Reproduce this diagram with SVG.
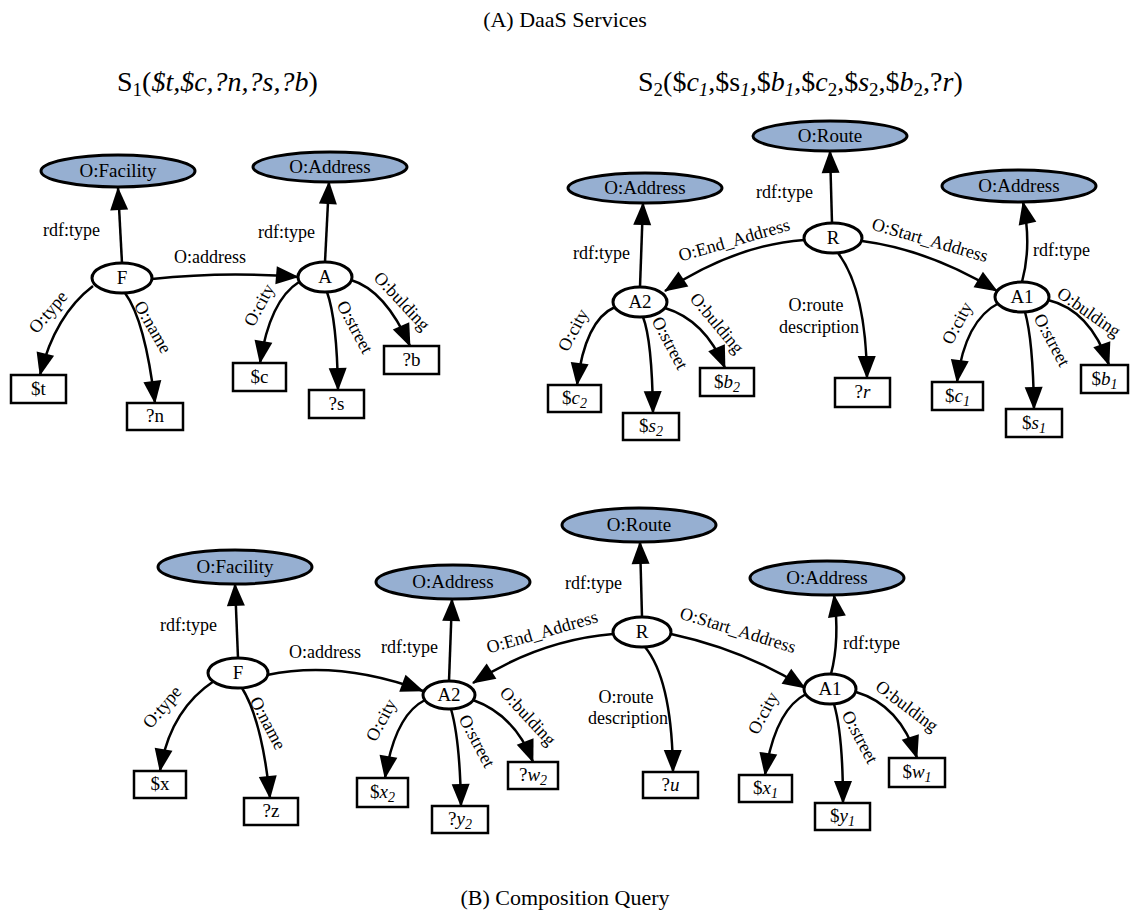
<svg xmlns="http://www.w3.org/2000/svg" width="1130" height="915" viewBox="0 0 1130 915">
<style>
text{font-family:"Liberation Serif","Times New Roman",serif;fill:#000}
.ti{font-size:22px;text-anchor:middle}
.st{font-size:28px}
.n{font-size:19px;text-anchor:middle}
.l{font-size:18px}
.m{text-anchor:middle}
.e{text-anchor:end}
.i{font-style:italic}
.cls ellipse{fill:#96afd1;stroke:#000;stroke-width:3}
.ins ellipse{fill:#fff;stroke:#000;stroke-width:3}
.box rect{fill:#fff;stroke:#000;stroke-width:2.5}
#edges path{fill:none;stroke:#000;stroke-width:2.5;marker-end:url(#ah)}
</style>
<defs>
<marker id="ah" markerUnits="userSpaceOnUse" markerWidth="24" markerHeight="19" refX="22" refY="9" orient="auto" overflow="visible">
<path d="M0,0 L23,9 L0,18 z" fill="#000"/>
</marker>
</defs>
<rect width="1130" height="915" fill="#fff"/>

<text class="ti" x="565" y="27">(A) DaaS Services</text>
<text class="st" x="117" y="91">S<tspan font-size="19" dy="5">1</tspan><tspan dy="-5">(</tspan><tspan class="i">$t,$c,?n,?s,?b</tspan>)</text>
<text class="st" x="638" y="91">S<tspan font-size="19" dy="5">2</tspan><tspan dy="-5">($</tspan><tspan class="i">c</tspan><tspan class="i" font-size="19" dy="5">1</tspan><tspan dy="-5">,$s</tspan><tspan class="i" font-size="19" dy="5">1</tspan><tspan dy="-5">,$</tspan><tspan class="i">b</tspan><tspan class="i" font-size="19" dy="5">1</tspan><tspan dy="-5">,$</tspan><tspan class="i">c</tspan><tspan font-size="19" dy="5">2</tspan><tspan dy="-5">,$</tspan><tspan class="i">s</tspan><tspan font-size="19" dy="5">2</tspan><tspan dy="-5">,$</tspan><tspan class="i">b</tspan><tspan font-size="19" dy="5">2</tspan><tspan dy="-5">,?</tspan><tspan class="i">r</tspan>)</text>
<text class="ti" x="565" y="905">(B) Composition Query</text>

<g id="edges">
<!-- S1 -->
<path d="M122,263 L118,188"/>
<path d="M325,262 L329,182"/>
<path d="M152,279 Q225,271 298,277"/>
<path d="M93,286 Q55,315 40,375"/>
<path d="M125,293 Q145,320 155,403"/>
<path d="M299,282 Q270,300 260,363"/>
<path d="M327,292 Q337,320 338,390"/>
<path d="M351,280 Q385,290 410,346"/>
<!-- S2 -->
<path d="M832,223 L830,151"/>
<path d="M640,287 L643,203"/>
<path d="M1022,282 Q1032,245 1023,202"/>
<path d="M804,240 Q735,245 665,291"/>
<path d="M862,241 Q930,250 997,291"/>
<path d="M838,253 Q866,290 867,378"/>
<path d="M615,307 Q585,320 577,385"/>
<path d="M643,317 Q652,340 653,413"/>
<path d="M665,308 Q705,320 725,368"/>
<path d="M999,303 Q965,320 957,382"/>
<path d="M1025,312 Q1033,340 1034,409"/>
<path d="M1048,300 Q1090,310 1109,365"/>
<!-- Query -->
<path d="M238,658 L235,584"/>
<path d="M449,681 L452,599"/>
<path d="M642,617 L640,542"/>
<path d="M831,674 Q840,640 834,595"/>
<path d="M267,675 Q340,660 423,691"/>
<path d="M613,634 Q540,640 473,683"/>
<path d="M671,634 Q745,650 805,688"/>
<path d="M645,647 Q672,680 673,772"/>
<path d="M214,681 Q170,710 160,771"/>
<path d="M242,688 Q262,720 270,798"/>
<path d="M425,700 Q395,715 385,778"/>
<path d="M451,709 Q460,740 461,806"/>
<path d="M473,700 Q515,715 533,762"/>
<path d="M806,694 Q775,710 765,775"/>
<path d="M834,704 Q843,735 843,803"/>
<path d="M856,692 Q900,705 917,758"/>
</g>

<g id="edge-labels">
<!-- S1 -->
<text class="l e" x="100" y="236">rdf:type</text>
<text class="l e" x="315" y="238">rdf:type</text>
<text class="l m" x="210" y="263">O:address</text>
<text class="l m" transform="translate(48,312) rotate(-50)" y="6">O:type</text>
<text class="l m" transform="translate(153,327) rotate(60)" y="6">O:name</text>
<text class="l m" transform="translate(259,305) rotate(-62)" y="6">O:city</text>
<text class="l m" transform="translate(355,327) rotate(62)" y="6">O:street</text>
<text class="l m" transform="translate(402,301) rotate(47)" y="6">O:bulding</text>
<!-- S2 -->
<text class="l e" x="813" y="198">rdf:type</text>
<text class="l e" x="630" y="259">rdf:type</text>
<text class="l" x="1033" y="256">rdf:type</text>
<text class="l m" transform="translate(734,240) rotate(-16)" y="6">O:End_Address</text>
<text class="l m" transform="translate(930,240) rotate(16)" y="6">O:Start_Address</text>
<text class="l m" x="816" y="311">O:route</text>
<text class="l m" x="819" y="333">description</text>
<text class="l m" transform="translate(573,330) rotate(-62)" y="6">O:city</text>
<text class="l m" transform="translate(670,343) rotate(62)" y="6">O:street</text>
<text class="l m" transform="translate(717,323) rotate(50)" y="6">O:bulding</text>
<text class="l m" transform="translate(957,323) rotate(-62)" y="6">O:city</text>
<text class="l m" transform="translate(1052,340) rotate(62)" y="6">O:street</text>
<text class="l m" transform="translate(1089,312) rotate(35)" y="6">O:bulding</text>
<!-- Query -->
<text class="l e" x="217" y="631">rdf:type</text>
<text class="l e" x="438" y="653">rdf:type</text>
<text class="l e" x="622" y="589">rdf:type</text>
<text class="l" x="843" y="649">rdf:type</text>
<text class="l m" x="325" y="658">O:address</text>
<text class="l m" transform="translate(542,632) rotate(-16)" y="6">O:End_Address</text>
<text class="l m" transform="translate(738,630) rotate(17)" y="6">O:Start_Address</text>
<text class="l m" x="626" y="703">O:route</text>
<text class="l m" x="628" y="724">description</text>
<text class="l m" transform="translate(162,707) rotate(-50)" y="6">O:type</text>
<text class="l m" transform="translate(268,723) rotate(62)" y="6">O:name</text>
<text class="l m" transform="translate(381,720) rotate(-62)" y="6">O:city</text>
<text class="l m" transform="translate(477,741) rotate(62)" y="6">O:street</text>
<text class="l m" transform="translate(528,716) rotate(47)" y="6">O:bulding</text>
<text class="l m" transform="translate(763,713) rotate(-62)" y="6">O:city</text>
<text class="l m" transform="translate(860,737) rotate(62)" y="6">O:street</text>
<text class="l m" transform="translate(907,706) rotate(37)" y="6">O:bulding</text>
</g>

<!-- S1 nodes -->
<g id="s1-facility" class="cls"><ellipse cx="118" cy="171" rx="77" ry="16"/><text class="n" x="118" y="177">O:Facility</text></g>
<g id="s1-address" class="cls"><ellipse cx="330" cy="167" rx="77" ry="15"/><text class="n" x="330" y="173">O:Address</text></g>
<g id="s1-F" class="ins"><ellipse cx="122" cy="278" rx="30" ry="15"/><text class="n" x="122" y="284">F</text></g>
<g id="s1-A" class="ins"><ellipse cx="325" cy="277" rx="27" ry="15"/><text class="n" x="325" y="283">A</text></g>
<g id="s1-t" class="box"><rect x="11" y="375" width="55" height="28"/><text class="n" x="38.5" y="395">$t</text></g>
<g id="s1-n" class="box"><rect x="127" y="403" width="56" height="27"/><text class="n" x="155" y="422">?n</text></g>
<g id="s1-c" class="box"><rect x="233" y="363" width="53" height="28"/><text class="n" x="259.5" y="383">$c</text></g>
<g id="s1-s" class="box"><rect x="309" y="390" width="55" height="28"/><text class="n" x="336.5" y="410">?s</text></g>
<g id="s1-b" class="box"><rect x="384" y="346" width="55" height="28"/><text class="n" x="411.5" y="366">?b</text></g>

<!-- S2 nodes -->
<g id="s2-route" class="cls"><ellipse cx="830" cy="136" rx="77" ry="15"/><text class="n" x="830" y="142">O:Route</text></g>
<g id="s2-address2" class="cls"><ellipse cx="645" cy="188" rx="77" ry="15"/><text class="n" x="645" y="194">O:Address</text></g>
<g id="s2-address1" class="cls"><ellipse cx="1019" cy="186" rx="77" ry="16"/><text class="n" x="1019" y="192">O:Address</text></g>
<g id="s2-R" class="ins"><ellipse cx="833" cy="238" rx="29" ry="15"/><text class="n" x="833" y="244">R</text></g>
<g id="s2-A2" class="ins"><ellipse cx="640" cy="302" rx="27" ry="15"/><text class="n" x="640" y="308">A2</text></g>
<g id="s2-A1" class="ins"><ellipse cx="1022" cy="297" rx="27" ry="15"/><text class="n" x="1022" y="303">A1</text></g>
<g id="s2-c2" class="box"><rect x="548" y="385" width="53" height="27"/><text class="n" x="574.5" y="404">$<tspan class="i">c</tspan><tspan class="i" font-size="14" dy="4">2</tspan></text></g>
<g id="s2-s2" class="box"><rect x="623" y="413" width="56" height="27"/><text class="n" x="651" y="432">$<tspan class="i">s</tspan><tspan class="i" font-size="14" dy="4">2</tspan></text></g>
<g id="s2-b2" class="box"><rect x="700" y="368" width="54" height="28"/><text class="n" x="727" y="388">$<tspan class="i">b</tspan><tspan class="i" font-size="14" dy="4">2</tspan></text></g>
<g id="s2-r" class="box"><rect x="835" y="378" width="55" height="29"/><text class="n" x="862.5" y="398">?<tspan class="i">r</tspan></text></g>
<g id="s2-c1" class="box"><rect x="932" y="382" width="51" height="28"/><text class="n" x="957.5" y="402">$<tspan class="i">c</tspan><tspan class="i" font-size="14" dy="4">1</tspan></text></g>
<g id="s2-s1" class="box"><rect x="1006" y="409" width="56" height="28"/><text class="n" x="1034" y="429">$<tspan class="i">s</tspan><tspan class="i" font-size="14" dy="4">1</tspan></text></g>
<g id="s2-b1" class="box"><rect x="1081" y="365" width="47" height="28"/><text class="n" x="1104.5" y="385">$<tspan class="i">b</tspan><tspan class="i" font-size="14" dy="4">1</tspan></text></g>

<!-- Query nodes -->
<g id="q-facility" class="cls"><ellipse cx="235" cy="567" rx="77" ry="17"/><text class="n" x="235" y="573">O:Facility</text></g>
<g id="q-address2" class="cls"><ellipse cx="453" cy="582" rx="77" ry="17"/><text class="n" x="453" y="588">O:Address</text></g>
<g id="q-route" class="cls"><ellipse cx="639" cy="525" rx="77" ry="17"/><text class="n" x="639" y="531">O:Route</text></g>
<g id="q-address1" class="cls"><ellipse cx="827" cy="578" rx="77" ry="17"/><text class="n" x="827" y="584">O:Address</text></g>
<g id="q-F" class="ins"><ellipse cx="238" cy="673" rx="30" ry="15"/><text class="n" x="238" y="679">F</text></g>
<g id="q-A2" class="ins"><ellipse cx="449" cy="695" rx="26" ry="14"/><text class="n" x="449" y="701">A2</text></g>
<g id="q-R" class="ins"><ellipse cx="642" cy="632" rx="29" ry="15"/><text class="n" x="642" y="638">R</text></g>
<g id="q-A1" class="ins"><ellipse cx="830" cy="689" rx="26" ry="15"/><text class="n" x="830" y="695">A1</text></g>
<g id="q-x" class="box"><rect x="134" y="771" width="52" height="27"/><text class="n" x="160" y="790">$x</text></g>
<g id="q-z" class="box"><rect x="244" y="798" width="54" height="27"/><text class="n" x="271" y="817">?z</text></g>
<g id="q-x2" class="box"><rect x="357" y="778" width="51" height="29"/><text class="n" x="382.5" y="798">$<tspan class="i">x</tspan><tspan class="i" font-size="14" dy="4">2</tspan></text></g>
<g id="q-y2" class="box"><rect x="432" y="806" width="56" height="27"/><text class="n" x="460" y="825">?<tspan class="i">y</tspan><tspan class="i" font-size="14" dy="4">2</tspan></text></g>
<g id="q-w2" class="box"><rect x="508" y="762" width="50" height="27"/><text class="n" x="533" y="781">?<tspan class="i">w</tspan><tspan class="i" font-size="14" dy="4">2</tspan></text></g>
<g id="q-u" class="box"><rect x="643" y="772" width="55" height="26"/><text class="n" x="670.5" y="791">?<tspan class="i">u</tspan></text></g>
<g id="q-x1" class="box"><rect x="739" y="775" width="53" height="27"/><text class="n" x="765.5" y="794">$<tspan class="i">x</tspan><tspan class="i" font-size="14" dy="4">1</tspan></text></g>
<g id="q-y1" class="box"><rect x="815" y="803" width="55" height="27"/><text class="n" x="842.5" y="822">$<tspan class="i">y</tspan><tspan class="i" font-size="14" dy="4">1</tspan></text></g>
<g id="q-w1" class="box"><rect x="889" y="758" width="56" height="29"/><text class="n" x="917" y="778">$<tspan class="i">w</tspan><tspan class="i" font-size="14" dy="4">1</tspan></text></g>
</svg>
